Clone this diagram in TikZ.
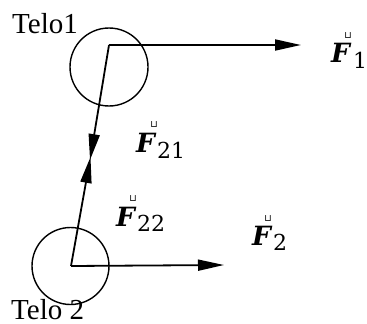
\documentclass[tikz,border=0pt]{standalone}
\usepackage{fontspec}
\setmainfont{Liberation Serif}
\newfontfamily\dvserif{DejaVu Serif}
\newfontfamily\dvsans{DejaVu Sans}
\usetikzlibrary{arrows.meta}
\tikzset{
  body/.style={draw, circle, line width=1.4pt, inner sep=0pt},
  force/.style={line width=1.8pt, -{Triangle[length=26pt,width=11pt]}},
  telo/.style={inner sep=0pt, anchor=base west, font=\fontsize{29}{30}\selectfont},
  fsym/.style={inner sep=0pt, anchor=base west, font=\dvserif\fontsize{26.5}{26}\selectfont\bfseries\itshape},
  fsub/.style={inner sep=0pt, anchor=base west, font=\dvserif\fontsize{22}{22}\selectfont},
  fmark/.style={inner sep=0pt, anchor=south, font=\dvsans\fontsize{9.5}{10}\selectfont},
}
\begin{document}
\begin{tikzpicture}[x=1pt,y=-1pt]
\useasboundingbox (0,0) rectangle (367,324);
% bodies
\node[body, minimum size=78pt] (c1) at (109,67) {};
\node[body, minimum size=77pt] (c2) at (70.5,266) {};
% points
\coordinate (p1) at (109,45);
\coordinate (p2) at (71,266);
\coordinate (m1) at (90,160);
\coordinate (m2) at (90.5,157);
\coordinate (e1) at (301,45);
\coordinate (e2) at (224,265);
% forces
\draw[force] (p1) -- (e1);
\draw[force] (p1) -- (m1);
\draw[force] (p2) -- (m2);
\draw[force] (p2) -- (e2);
% labels
\node[telo] (t1) at (12,33) {Telo1};
\node[telo] (t2) at (11,319) {Telo 2};
% F1
\node[fsym] (f1) at (331,62) {F};
\node[fsub] (f1s) at (353,68) {1};
\node[fmark] (f1m) at (348,39) {⊔};
% F21
\node[fsym] (f21) at (136,152) {F};
\node[fsub] (f21s) at (157,158) {21};
\node[fmark] (f21m) at (154,128) {⊔};
% F22
\node[fsym] (f22) at (116,226) {F};
\node[fsub] (f22s) at (137,231) {22};
\node[fmark] (f22m) at (133,202) {⊔};
% F2
\node[fsym] (f2) at (252,245) {F};
\node[fsub] (f2s) at (273,250) {2};
\node[fmark] (f2m) at (268,222) {⊔};
\end{tikzpicture}
\end{document}
